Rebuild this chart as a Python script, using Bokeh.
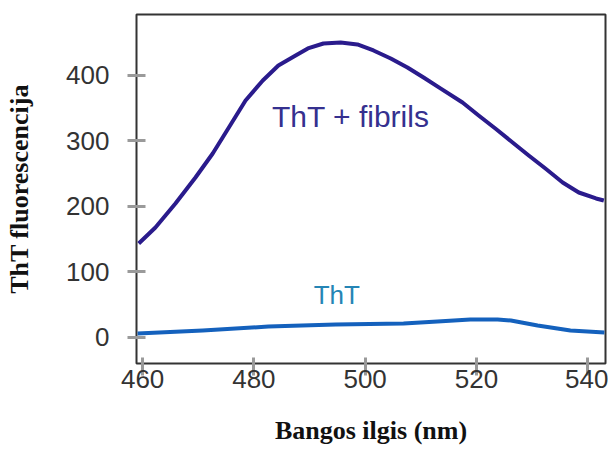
from bokeh.plotting import figure
from bokeh.models import Range1d, Label, FixedTicker
from bokeh.embed import file_html
from bokeh.resources import INLINE

# ThT + fibrils curve (wavelength nm, fluorescence)
fib_x = [459.3, 462.3, 465.9, 469.5, 472.6, 475.5, 478.5, 481.6, 484.4, 487.5,
         489.7, 492.5, 495.6, 498.6, 501.5, 504.6, 507.6, 510.5, 513.6,
         517.5, 520.4, 523.4, 526.5, 529.4, 532.4, 535.5, 538.4, 541.5, 542.9]
fib_y = [143.2, 167.6, 204.2, 243.9, 280.5, 320.2, 361.4, 391.9, 414.7, 430.0,
         440.7, 448.3, 449.8, 446.8, 437.6, 425.4, 411.7, 396.4, 379.5,
         358.3, 338.5, 318.6, 297.3, 277.5, 257.6, 236.3, 221.0, 211.9, 208.8]

# ThT alone
tht_x = [459.1, 470.8, 482.6, 494.7, 506.9, 513.0, 518.9, 523.8, 526.2, 531.0, 536.9, 543.0]
tht_y = [5.9, 10.5, 16.6, 19.7, 21.2, 24.3, 27.3, 27.3, 25.8, 18.1, 10.5, 7.5]

x_ticks = [460, 480, 500, 520, 540]
y_ticks = [0, 100, 200, 300, 400]

p = figure(width=608, height=448, output_backend="svg", toolbar_location=None,
           x_range=Range1d(458.9, 543.2), y_range=Range1d(-39.8, 492.5))
p.min_border_left = 136
p.min_border_right = 3
p.min_border_top = 14
p.min_border_bottom = 85
p.background_fill_color = "white"
p.border_fill_color = "white"
p.grid.visible = False
p.outline_line_color = "#333333"
p.outline_line_width = 2

p.line(fib_x, fib_y, line_color="#2a1b8c", line_width=4, line_join="round")
p.line(tht_x, tht_y, line_color="#1461bd", line_width=4, line_join="round")

for ax in (p.xaxis[0], p.yaxis[0]):
    ax.axis_line_color = None
    ax.major_tick_line_color = "#9a9a9a"
    ax.major_tick_line_width = 3
    ax.minor_tick_line_color = None
    ax.major_label_text_font = "Liberation Sans"
    ax.major_label_text_font_size = "26px"
    ax.major_label_text_color = "#333333"
    ax.axis_label_text_font = "Liberation Serif"
    ax.axis_label_text_font_style = "bold"
    ax.axis_label_text_font_size = "26px"
    ax.axis_label_text_color = "#111111"

p.xaxis.ticker = FixedTicker(ticks=x_ticks)
p.yaxis.ticker = FixedTicker(ticks=y_ticks)
p.xaxis.major_tick_in = 6
p.xaxis.major_tick_out = 12
p.xaxis.major_label_standoff = -6
p.yaxis.major_tick_in = 9
p.yaxis.major_tick_out = 9
p.yaxis.major_label_standoff = 18
p.xaxis.axis_label = "Bangos ilgis (nm)"
p.yaxis.axis_label = "ThT fluorescencija"
p.xaxis.axis_label_standoff = 25
p.yaxis.axis_label_standoff = 29

p.add_layout(Label(x=497.4, y=337.0, text="ThT + fibrils", text_align="center",
                   text_baseline="middle", text_font="Liberation Sans",
                   text_font_size="30px", text_color="#35308f"))
p.add_layout(Label(x=494.9, y=65.4, text="ThT", text_align="center",
                   text_baseline="middle", text_font="Liberation Sans",
                   text_font_size="26px", text_color="#2585b5"))

open("out.html", "w").write(file_html(p, INLINE))
